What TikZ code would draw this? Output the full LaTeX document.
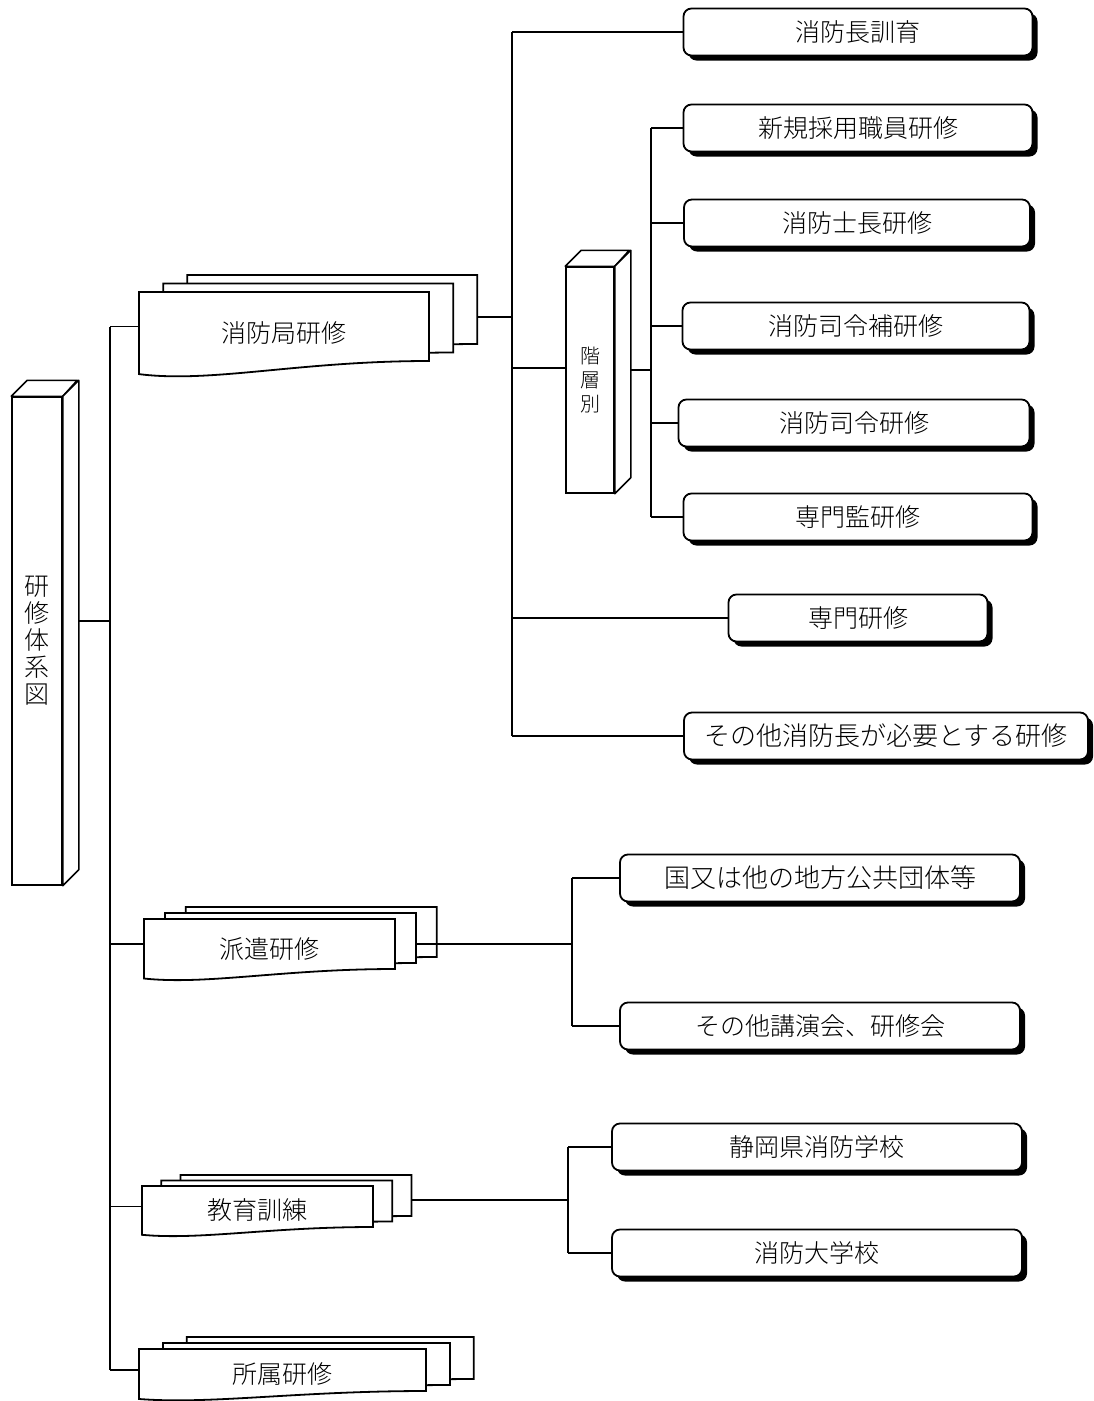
\documentclass[tikz,border=0pt]{standalone}
\usepackage{fontspec}
\setmainfont{Noto Sans CJK JP}[UprightFont=* Light]
\usetikzlibrary{shadows}

% stack of three pages: name, x, y, width, height, lift, text, out y
\newcommand{\docstack}[8]{%
  \pgfmathsetmacro\stkdx{#4/12}%
  \pgfmathsetmacro\stkdd{#5*0.19}%
  \foreach \k in {2,1,0} {%
    \draw[docpage, shift={({\k*\stkdx},{-\k*#6})}] (#2,#3) -- ({#2+#4},#3) -- ({#2+#4},{#3+#5})
      .. controls ({#2+0.55*#4},{#3+#5}) and ({#2+0.25*#4},{#3+#5+1.7*\stkdd}) .. (#2,{#3+#5+\stkdd}) -- cycle;
  }
  \node[lbl] (#1) at ({#2+#4/2},{#3+(#5+\stkdd)/2}) {#7};
  \coordinate (#1-in) at (#2,{#3+#5/2});
  \coordinate (#1-out) at ({#2+#4+2*\stkdx},#8);
}

\begin{document}
\begin{tikzpicture}[x=1pt, y=-1pt,
    link/.style={line width=1.5pt},
    docpage/.style={draw, fill=white, line width=1.8pt},
    lbl/.style={font=\fontsize{25}{29}\selectfont},
    pillar/.style={draw, fill=white, line width=1.5pt, align=center, inner sep=0pt},
    face/.style={draw, fill=white, line width=1.5pt, line join=round},
    kbox/.style={draw, fill=white, line width=1.8pt, rounded corners=8pt, minimum height=47pt,
      font=\fontsize{25}{29}\selectfont,
      drop shadow={shadow xshift=5pt, shadow yshift=-5pt, fill=black, opacity=1}},
    wide/.style={font=\fontsize{26}{30}\selectfont}]
    \useasboundingbox (0,0) rectangle (1094,1401);

    % left pillar
    \node[pillar, minimum width=50pt, minimum height=488pt, font=\fontsize{25}{27}\selectfont] (sys) at (37,641) {研\\修\\体\\系\\図};
    \draw[face] (sys.north west) -- ++(16,-16) -- ++(50,0) -- (sys.north east) -- cycle;
    \draw[face] (sys.north east) -- ++(16,-16) -- ([shift={(16pt,16pt)}]sys.south east) -- (sys.south east) -- cycle;

    % stacks
    \docstack{kyoku}{139}{292}{290}{69}{8.5}{消防局研修}{317}
    \docstack{haken}{144}{919}{251}{50}{6}{派遣研修}{944}
    \docstack{kyoiku}{142}{1186}{231}{41}{5.5}{教育訓練}{1200}
    \docstack{shozoku}{139}{1349}{287}{42}{6}{所属研修}{1367}

    % pillar for grades
    \node[pillar, minimum width=48pt, minimum height=226pt, font=\fontsize{20}{24}\selectfont] (kaiso) at (590,380) {階\\層\\別};
    \draw[face] (kaiso.north west) -- ++(16,-16) -- ++(48,0) -- (kaiso.north east) -- cycle;
    \draw[face] (kaiso.north east) -- ++(16,-16) -- ([shift={(16pt,16pt)}]kaiso.south east) -- (kaiso.south east) -- cycle;

    % boxes
    \node[kbox, minimum width=349pt] (cho) at (858,32) {消防長訓育};
    \node[kbox, minimum width=349pt] (shinki) at (858,128) {新規採用職員研修};
    \node[kbox, minimum width=346pt] (shicho) at (857,223) {消防士長研修};
    \node[kbox, minimum width=347pt] (shireiho) at (856,326) {消防司令補研修};
    \node[kbox, minimum width=351pt] (shirei) at (854,423) {消防司令研修};
    \node[kbox, minimum width=349pt] (senmonkan) at (858,517) {専門監研修};
    \node[kbox, minimum width=259pt] (senmon) at (858,618) {専門研修};
    \node[kbox, wide, minimum width=404pt] (sonota) at (886,736) {その他消防長が必要とする研修};
    \node[kbox, wide, minimum width=400pt] (kuni) at (820,878) {国又は他の地方公共団体等};
    \node[kbox, minimum width=400pt] (koen) at (820,1026) {その他講演会、研修会};
    \node[kbox, minimum width=410pt] (shizuoka) at (817,1147) {静岡県消防学校};
    \node[kbox, minimum width=410pt] (daigaku) at (817,1253) {消防大学校};

    \coordinate (trunk) at (110,0);
    \coordinate (rbus) at (512,0);
    \coordinate (kbus) at (651,0);
    \coordinate (hbus) at (572,0);
    \coordinate (ebus) at (568,0);

    % trunk
    \coordinate (sys-out) at ([shift={(16pt,20pt)}]sys.east);
    \draw[link] (sys-out) -- (sys-out -| trunk);
    \draw[link] (kyoku-in -| trunk) -- (shozoku-in -| trunk);
    \foreach \n in {kyoku,haken,kyoiku,shozoku}
      \draw[link] (\n-in) -- (\n-in -| trunk);

    % fire department
    \draw[link] (kyoku-out) -- (kyoku-out -| rbus);
    \draw[link] (cho.west -| rbus) -- (sonota.west -| rbus);
    \foreach \n in {cho,senmon,sonota}
      \draw[link] (\n.west) -- (\n.west -| rbus);
    \coordinate (kaiso-in) at ([yshift=12pt]kaiso.west);
    \draw[link] (kaiso-in) -- (kaiso-in -| rbus);
    \coordinate (kaiso-out) at ([shift={(16pt,10pt)}]kaiso.east);
    \draw[link] (kaiso-out) -- (kaiso-out -| kbus);
    \draw[link] (shinki.west -| kbus) -- (senmonkan.west -| kbus);
    \foreach \n in {shinki,shicho,shireiho,shirei,senmonkan}
      \draw[link] (\n.west) -- (\n.west -| kbus);

    % dispatch
    \draw[link] ([xshift=-21pt]haken-out) -- (haken-out -| hbus);
    \draw[link] (kuni.west -| hbus) -- (koen.west -| hbus);
    \foreach \n in {kuni,koen}
      \draw[link] (\n.west) -- (\n.west -| hbus);

    % training
    \draw[link] (kyoiku-out) -- (kyoiku-out -| ebus);
    \draw[link] (shizuoka.west -| ebus) -- (daigaku.west -| ebus);
    \foreach \n in {shizuoka,daigaku}
      \draw[link] (\n.west) -- (\n.west -| ebus);
  \end{tikzpicture}
\end{document}
